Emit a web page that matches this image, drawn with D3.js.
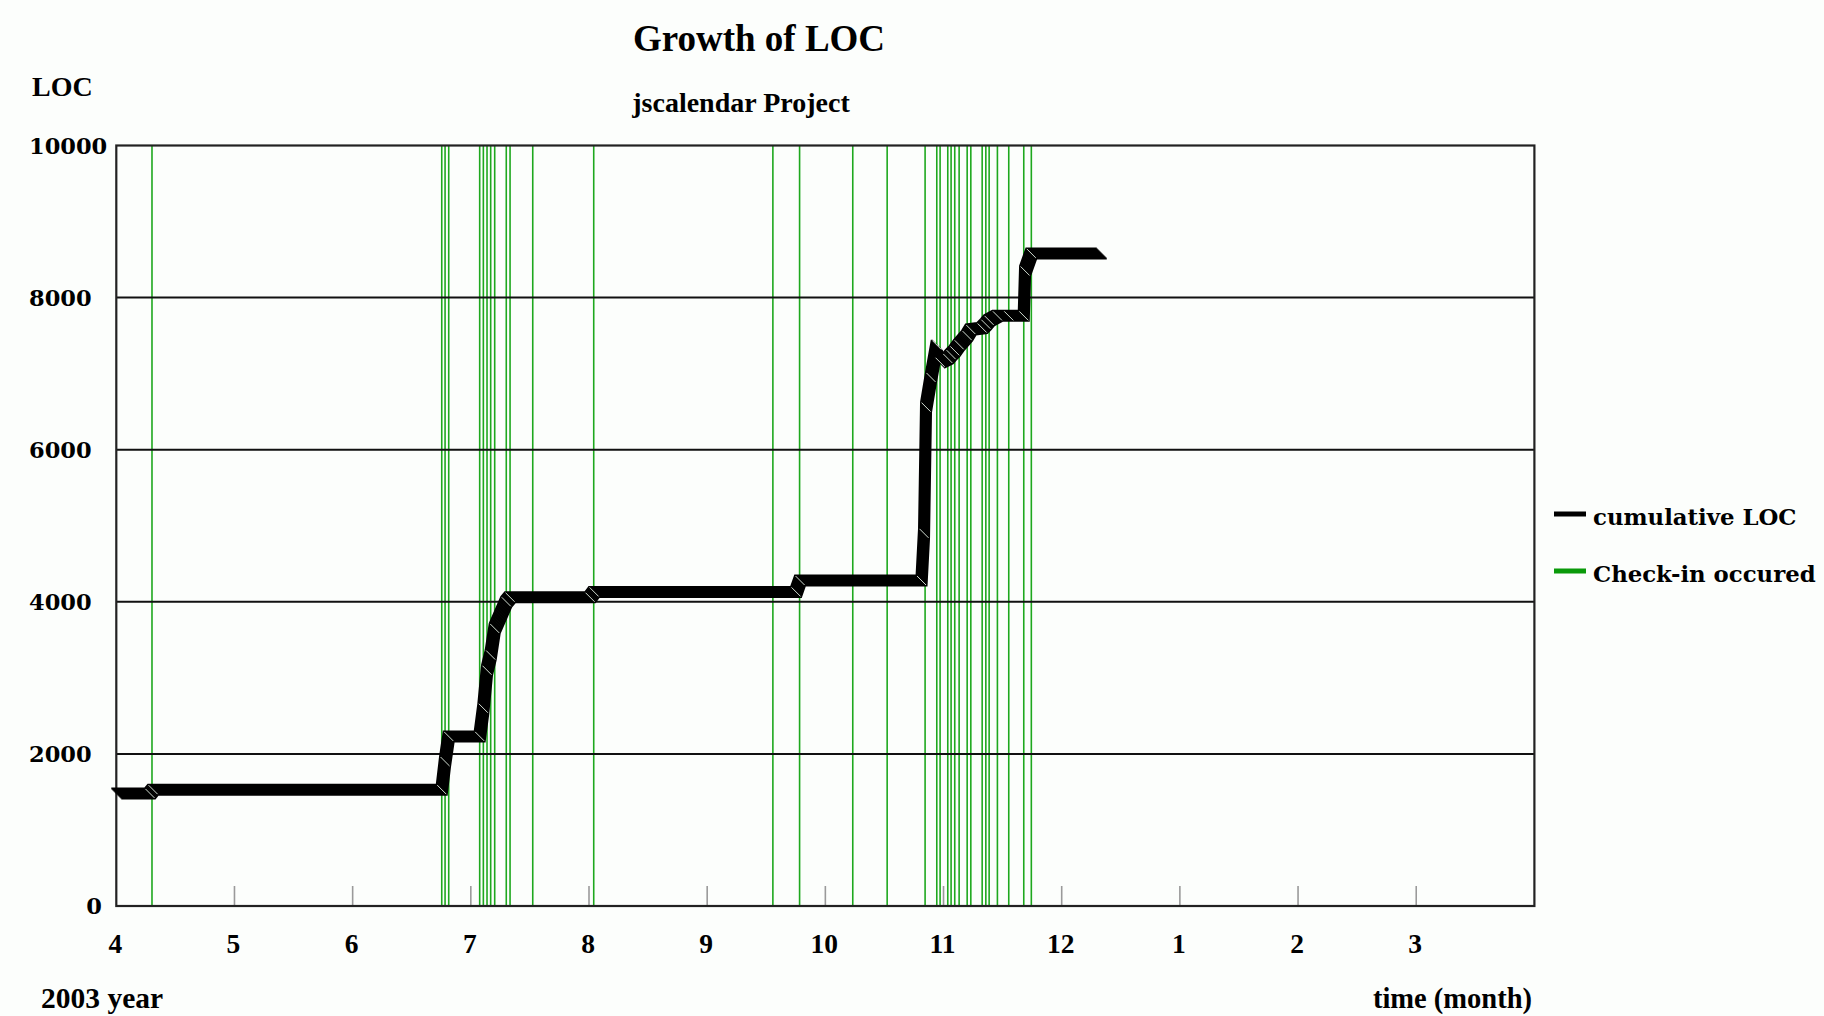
<!DOCTYPE html>
<html>
<head>
<meta charset="utf-8">
<script src="https://cdn.jsdelivr.net/npm/d3@7"></script>
<style>
  html, body { margin: 0; padding: 0; background: #fcfefc; }
  svg { display: block; }
</style>
</head>
<body>
<svg id="chart" width="1824" height="1016"></svg>
<script>
// ---- data (months since 2003-04-01, equal-width months) ----
const monthLabels = ["4","5","6","7","8","9","10","11","12","1","2","3"];
const yTicks = [0, 2000, 4000, 6000, 8000, 10000];

// check-in times (fractional month offsets from April 2003)
const checkins = [
  0.302,
  2.754, 2.782, 2.813, 3.075, 3.106, 3.137, 3.168, 3.202, 3.300, 3.332, 3.524, 4.040,
  5.556, 5.782, 6.232, 6.523,
  6.844, 6.943, 6.971, 7.036, 7.064, 7.095, 7.132, 7.200, 7.231, 7.327, 7.358, 7.386,
  7.456, 7.552, 7.679, 7.743
];

// cumulative LOC line vertices: month offset, LOC
const locMonths = [
  0.000, 0.285, 0.311, 2.754, 2.782, 2.813, 3.075, 3.106, 3.137, 3.168, 3.202, 3.300, 3.332,
  4.009, 4.043, 5.752, 5.786, 6.814, 6.835, 6.852, 6.894, 6.943, 6.971, 7.036, 7.064, 7.095,
  7.132, 7.200, 7.231, 7.327, 7.358, 7.386, 7.456, 7.552, 7.679, 7.690, 7.743, 8.339
];
const locValues = [
  1480, 1480, 1530, 1530, 1900, 2230, 2230, 2600, 3100, 3300, 3650, 4000, 4060,
  4060, 4130, 4130, 4280, 4280, 4900, 6560, 6950, 7377, 7150, 7200, 7250, 7300,
  7380, 7500, 7580, 7600, 7650, 7700, 7760, 7760, 7760, 8350, 8581, 8581
];

// ---- layout ----
const svg = d3.select("#chart");
const pLeft = 116.3, pRight = 1534.4, pTop = 145.5, pBottom = 906;
const x = d3.scaleLinear().domain([0, 12]).range([pLeft, pRight]);
const y = d3.scaleLinear().domain([0, 10000]).range([pBottom, pTop]);

const serif = "'Liberation Serif', 'Times New Roman', serif";
const wideSerif = "'DejaVu Serif', serif";

svg.append("rect").attr("width", 1824).attr("height", 1016).attr("fill", "#fcfefc");

// titles
svg.append("text").attr("x", 759).attr("y", 51).attr("text-anchor", "middle")
  .attr("font-family", serif).attr("font-weight", "bold").attr("font-size", 37)
  .attr("fill", "#000").text("Growth of LOC");
svg.append("text").attr("x", 741).attr("y", 112).attr("text-anchor", "middle")
  .attr("font-family", serif).attr("font-weight", "bold").attr("font-size", 28)
  .attr("fill", "#000").text("jscalendar Project");
svg.append("text").attr("x", 32).attr("y", 96)
  .attr("font-family", serif).attr("font-weight", "bold").attr("font-size", 28)
  .attr("fill", "#000").text("LOC");
svg.append("text").attr("x", 41).attr("y", 1008)
  .attr("font-family", serif).attr("font-weight", "bold").attr("font-size", 29.5)
  .attr("fill", "#000").text("2003 year");
svg.append("text").attr("x", 1532).attr("y", 1008).attr("text-anchor", "end")
  .attr("font-family", serif).attr("font-weight", "bold").attr("font-size", 28.5)
  .attr("fill", "#000").text("time (month)");

// check-in lines
svg.append("g").selectAll("line").data(checkins).join("line")
  .attr("x1", d => x(d)).attr("x2", d => x(d))
  .attr("y1", y(10000)).attr("y2", y(0))
  .attr("stroke", "#1ea81e").attr("stroke-width", 1.6);

// horizontal gridlines
svg.append("g").selectAll("line").data(yTicks.filter(v => v > 0 && v < 10000)).join("line")
  .attr("x1", pLeft).attr("x2", pRight)
  .attr("y1", d => y(d)).attr("y2", d => y(d))
  .attr("stroke", "#111").attr("stroke-width", 2);

// month tick marks (inside the plot, above the axis)
svg.append("g").selectAll("line").data(d3.range(1, 12)).join("line")
  .attr("x1", d => x(d)).attr("x2", d => x(d))
  .attr("y1", y(0)).attr("y2", y(0) - 20)
  .attr("stroke", "#9a9a9a").attr("stroke-width", 1.6);

// frame
svg.append("rect").attr("x", pLeft).attr("y", pTop)
  .attr("width", pRight - pLeft).attr("height", pBottom - pTop)
  .attr("fill", "none").attr("stroke", "#222").attr("stroke-width", 2.2);

// y tick labels
svg.append("g").selectAll("text").data(yTicks).join("text")
  .attr("x", d => d === 0 ? 102 : 29)
  .attr("text-anchor", d => d === 0 ? "end" : "start")
  .attr("y", d => y(d)).attr("dy", "0.36em")
  .attr("font-family", wideSerif).attr("font-weight", "bold").attr("font-size", 22.5)
  .attr("fill", "#000").text(d => d);

// x tick labels
svg.append("g").selectAll("text").data(monthLabels).join("text")
  .attr("x", (d, i) => x(i) - 1).attr("y", 953).attr("text-anchor", "middle")
  .attr("font-family", serif).attr("font-weight", "bold").attr("font-size", 27.5)
  .attr("fill", "#000").text(d => d);

// cumulative LOC line, drawn with a diagonal "pen"
const pts = locMonths.map((m, i) => [m, locValues[i]]);
const line = d3.line().x(d => x(d[0])).y(d => y(d[1])).curve(d3.curveLinear);
const pathD = line(pts);
const pen = svg.append("g");
d3.range(-5, 5.5, 1).forEach(k => {
  pen.append("path").attr("d", pathD)
    .attr("transform", `translate(${k},${k})`)
    .attr("fill", "none").attr("stroke", "#000").attr("stroke-width", 2)
    .attr("stroke-linejoin", "miter");
});

// pen hatch marks at the interior vertices
const hatch = svg.append("g");
pts.slice(1, -1).forEach(p => {
  const px = x(p[0]), py = y(p[1]);
  hatch.append("line")
    .attr("x1", px - 4.5).attr("y1", py - 4.5).attr("x2", px + 4.5).attr("y2", py + 4.5)
    .attr("stroke", "#e8f4e8").attr("stroke-width", 0.9);
});

// legend
const legend = svg.append("g");
legend.append("line").attr("x1", 1554).attr("x2", 1586).attr("y1", 514).attr("y2", 514)
  .attr("stroke", "#000").attr("stroke-width", 5);
legend.append("text").attr("x", 1593).attr("y", 525)
  .attr("font-family", wideSerif).attr("font-weight", "bold").attr("font-size", 22.8)
  .attr("fill", "#000").text("cumulative LOC");
legend.append("line").attr("x1", 1554).attr("x2", 1586).attr("y1", 571).attr("y2", 571)
  .attr("stroke", "#0a9a0a").attr("stroke-width", 5);
legend.append("text").attr("x", 1593).attr("y", 582)
  .attr("font-family", wideSerif).attr("font-weight", "bold").attr("font-size", 22.8)
  .attr("fill", "#000").text("Check-in occured");
</script>
</body>
</html>
